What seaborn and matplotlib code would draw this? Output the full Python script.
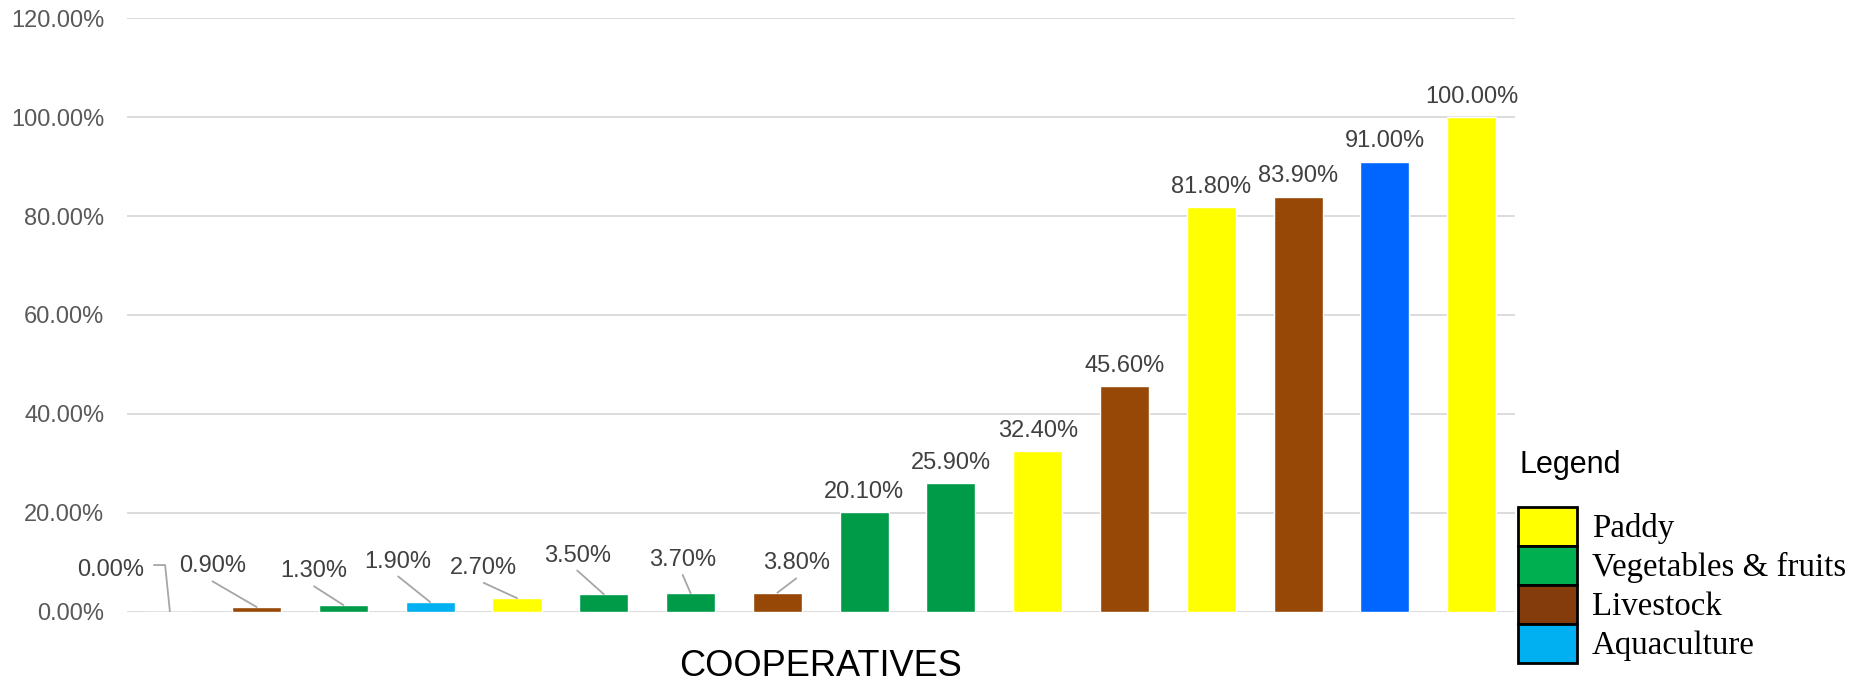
import matplotlib
matplotlib.use("Agg")
import matplotlib.pyplot as plt
from matplotlib.patches import Rectangle
from matplotlib.ticker import FuncFormatter, MultipleLocator
import pandas as pd
import seaborn as sns

# ---- data -------------------------------------------------------------
cooperatives = [f"Coop {i}" for i in range(1, 17)]
share_pct = [0.0, 0.9, 1.3, 1.9, 2.7, 3.5, 3.7, 3.8,
             20.1, 25.9, 32.4, 45.6, 81.8, 83.9, 91.0, 100.0]
bar_colors = ["#FFFF00", "#974706", "#009B48", "#00B0F0", "#FFFF00", "#009B48",
              "#009B48", "#974706", "#009B48", "#009B48", "#FFFF00", "#974706",
              "#FFFF00", "#974706", "#0066FF", "#FFFF00"]
legend_labels = ["Paddy", "Vegetables & fruits", "Livestock", "Aquaculture"]
legend_colors = ["#FFFF00", "#00B050", "#843C0C", "#00B0F0"]

# callout placement (label centre offsets, in bar units / percentage points)
callout_offsets = [(-0.684, 8.8), (-0.509, 8.7), (-0.339, 7.3), (-0.37, 8.7),
                   (-0.384, 6.6), (-0.307, 8.3), (-0.091, 7.2), (0.218, 6.4)]

# ---- figure -----------------------------------------------------------
sns.set_theme(style="white")
plt.rcParams["font.family"] = ["Liberation Sans", "DejaVu Sans"]

W, H = 1854, 681
fig = plt.figure(figsize=(W / 100, H / 100), dpi=100)
ax = fig.add_axes([126.5 / W, 1 - 611.5 / H, (1515 - 126.5) / W, (611.5 - 18.3) / H])

df = pd.DataFrame({"coop": cooperatives, "share": share_pct})
sns.barplot(data=df, x="coop", y="share", hue="coop",
            palette=dict(zip(cooperatives, bar_colors)), legend=False,
            saturation=1, width=0.565, ax=ax)

ax.set_xlim(-0.5, len(cooperatives) - 0.5)
ax.set_ylim(0, 120)
ax.yaxis.set_major_locator(MultipleLocator(20))
ax.yaxis.set_major_formatter(FuncFormatter(lambda v, _: f"{v:.2f}%"))
ax.tick_params(axis="y", length=0, pad=16, labelsize=17, labelcolor="#595959")
ax.tick_params(axis="x", length=0, labelbottom=False)
ax.set_axisbelow(True)
ax.yaxis.grid(True, color="#D9D9D9", linewidth=1.3)
ax.xaxis.grid(False)
sns.despine(ax=ax, left=True, bottom=True)
ax.set_ylabel("")
ax.set_xlabel("COOPERATIVES", fontsize=26, color="black", va="baseline")
ax.xaxis.set_label_coords(0.5, ((H - 675.5) / H - (1 - 611.5 / H)) / ((611.5 - 18.3) / H))

# ---- value labels -----------------------------------------------------
label_kw = dict(fontsize=17, color="#404040")
leader_kw = dict(color="#A6A6A6", linewidth=1.3)
px_per_pct = (611.5 - 18.3) / 120.0
baseline_shift = 0.716 * 23.5 / 2 / px_per_pct
for i, v in enumerate(share_pct):
    txt = f"{v:.2f}%"
    if i < len(callout_offsets):
        dx, dy = callout_offsets[i]
        lx, ly = i + dx, v + dy
        ax.text(lx, ly - baseline_shift, txt, ha="center", va="baseline", **label_kw)
        if i == 0:
            ax.plot([lx + 0.5, i - 0.055, i], [ly + 0.6, ly + 0.6, v], **leader_kw)
        else:
            ax.plot([lx, i], [ly - 3.5, v], **leader_kw)
    else:
        ax.annotate(txt, (i, v), xytext=(0, 10.5), textcoords="offset points",
                    ha="center", va="baseline", **label_kw)

# ---- legend -----------------------------------------------------------
def fpos(x, y):
    return x / W, 1 - y / H

fig.text(*fpos(1519.3, 473.3), "Legend", fontsize=22, color="black",
         ha="left", va="baseline")
row_h = 39.0
top = 506.7
for k, (lab, col) in enumerate(zip(legend_labels, legend_colors)):
    y0 = top + k * row_h
    x0, yb = fpos(1517.7, y0 + row_h)
    fig.add_artist(Rectangle((x0, yb), 59 / W, row_h / H, transform=fig.transFigure,
                             facecolor=col, edgecolor="black", linewidth=2.0))
    fig.text(*fpos(1591.7, y0 + row_h / 2 + 10.8), lab, fontsize=23.7,
             family=["Liberation Serif", "DejaVu Serif"], color="black",
             ha="left", va="baseline")

fig.savefig("out.png", dpi=100, facecolor="white")
